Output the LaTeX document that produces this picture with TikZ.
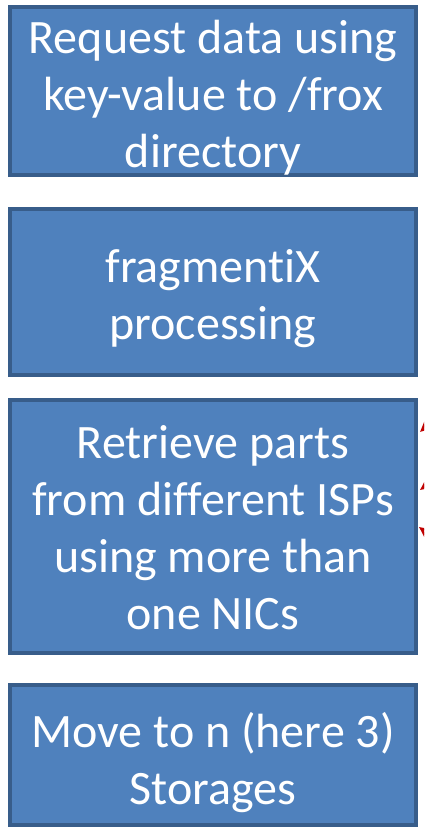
\documentclass[tikz,border=0pt]{standalone}
\usepackage{fontspec}
\setmainfont{Carlito}[Ligatures=NoCommon]
\usetikzlibrary{arrows.meta,calc}
\definecolor{boxfill}{HTML}{4F81BD}
\definecolor{boxline}{HTML}{385D8A}
\definecolor{arrred}{HTML}{C00000}
\tikzset{
  flowbox/.style={draw=boxline, fill=boxfill, line width=4pt, minimum width=406pt, inner sep=0pt},
  boxtext/.style={align=center, text=white, inner sep=0pt, font=\fontsize{48pt}{57pt}\selectfont},
  redarrow/.style={draw=arrred, line width=2pt, -{Triangle[length=11pt,width=10pt]}}
}
\begin{document}
\begin{tikzpicture}[x=1pt,y=1pt]
\useasboundingbox (0,0) rectangle (424,829);
\clip (0,0) rectangle (424,829);
\fill[white] (0,0) rectangle (424,829);
\node[flowbox, minimum height=168pt] (b1) at (213,738) {};
\node[boxtext] (t1text) at (213,731) {Request data using\\key-value to /frox\\directory};
\node[flowbox, minimum height=166pt] (b2) at (213,537) {};
\node[boxtext] (t2text) at (213,530) {fragmentiX\\processing};
\node[flowbox, minimum height=253pt] (b3) at (213,302.5) {};
\node[boxtext] (t3text) at (213,301) {Retrieve parts\\from different ISPs\\using more than\\one NICs};
\node[flowbox, minimum height=140pt] (b4) at (213,74) {};
\node[boxtext] (t4text) at (213,66) {Move to n (here 3)\\Storages};
\coordinate (s1) at (462,435);
\coordinate (t1) at (b3.east |- 0,397);
\coordinate (s2) at (462,370);
\coordinate (t2) at (b3.east |- 0,339);
\coordinate (s3) at (462,270);
\coordinate (t3) at (b3.east |- 0,302);
\draw[redarrow] (s1) -- ([xshift=2pt]t1);
\draw[redarrow] (s2) -- ([xshift=2pt]t2);
\draw[redarrow] (s3) -- ([xshift=1pt]t3);
\end{tikzpicture}
\end{document}
